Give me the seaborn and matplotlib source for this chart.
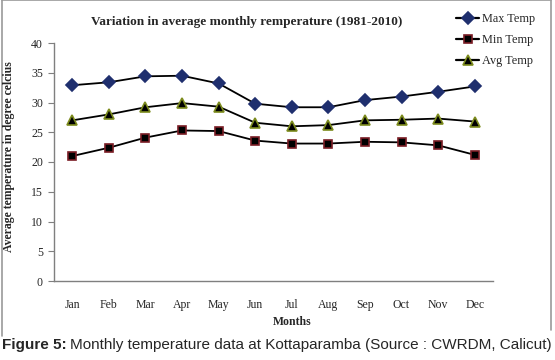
import matplotlib
matplotlib.use("Agg")
import matplotlib.pyplot as plt
import seaborn as sns
import pandas as pd
from matplotlib.lines import Line2D

months = ["Jan", "Feb", "Mar", "Apr", "May", "Jun", "Jul", "Aug", "Sep", "Oct", "Nov", "Dec"]
max_temp = [32.9, 33.4, 34.4, 34.5, 33.2, 29.8, 29.2, 29.2, 30.4, 31.0, 31.8, 32.7]
min_temp = [21.0, 22.4, 24.1, 25.3, 25.2, 23.6, 23.1, 23.1, 23.4, 23.3, 22.8, 21.2]
avg_temp = [27.0, 28.0, 29.2, 29.9, 29.3, 26.6, 26.0, 26.2, 27.0, 27.1, 27.3, 26.8]

sns.set_style("white")
plt.rcParams["font.family"] = ["Liberation Serif", "DejaVu Serif"]

fig = plt.figure(figsize=(5.55, 3.6), dpi=100)
ax = fig.add_axes([54/555, 1-281/360, (493-54)/555, (281-43)/360])

series = [
    ("Max Temp", max_temp, "D", "#1f2f6e", "#1f2f6e", 6.0),
    ("Min Temp", min_temp, "s", "black", "#7a1d25", 6.3),
    ("Avg Temp", avg_temp, "^", "black", "#7d8c1e", 7.5),
]
x = list(range(len(months)))
handles = []
for name, vals, mk, fc, ec, ms in series:
    df = pd.DataFrame({"Month": x, "Temp": vals})
    sns.lineplot(data=df, x="Month", y="Temp", ax=ax, color="black", lw=1.3,
                 marker=mk, markersize=ms, markerfacecolor=fc, markeredgecolor=ec,
                 markeredgewidth=1.2, legend=False)
    handles.append(Line2D([], [], color="black", lw=1.6, marker=mk, markersize=ms,
                          markerfacecolor=fc, markeredgecolor=ec, markeredgewidth=1.2,
                          label=name))

ax.set_xlim(-0.5, 11.5)
ax.set_ylim(0, 40)
ax.set_yticks(range(0, 41, 5))
ax.set_xticks(x)
ax.set_xticklabels(months)
ax.set_xlabel("")
ax.set_ylabel("")
for s in ["top", "right"]:
    ax.spines[s].set_visible(False)
for s in ["left", "bottom"]:
    ax.spines[s].set_color("#7f7f7f")
    ax.spines[s].set_linewidth(1.0)
ax.tick_params(axis="y", which="major", direction="out", length=4, color="#7f7f7f",
               labelsize=8.5, pad=4, left=True)
ax.tick_params(axis="x", which="major", length=0, labelsize=8.5, pad=13)

fig.text(247/555, 1-22/360, "Variation in average monthly remperature (1981-2010)",
         ha="center", va="center", fontsize=9.5, fontweight="bold")
fig.text(292/555, 1-322/360, "Months", ha="center", va="center", fontsize=8.5, fontweight="bold")
fig.text(9/555, 1-157/360, "Average temperature in degree celcius", ha="center", va="center",
         rotation=90, fontsize=8.5, fontweight="bold")

# legend entries (uneven spacing as in reference)
leg_y = [19, 40, 61]
for h, yy in zip(handles, leg_y):
    fig.legend(handles=[h], loc="center left", bbox_to_anchor=(456/555, 1-yy/360),
               frameon=False, fontsize=8.8, handlelength=1.9,
               handletextpad=0.2, borderaxespad=0, borderpad=0)

# outer border
fig.add_artist(Line2D([1.5/555, 1.5/555], [1-336/360, 1], color="#9a9a9a", lw=1.2,
                      transform=fig.transFigure))
fig.add_artist(Line2D([551/555, 551/555], [1-330/360, 1], color="#9a9a9a", lw=1.2,
                      transform=fig.transFigure))
fig.add_artist(Line2D([1.5/555, 551/555], [0.999, 0.999], color="#9a9a9a", lw=1.2,
                      transform=fig.transFigure))

# caption
fig.canvas.draw()
r = fig.canvas.get_renderer()
t1 = fig.text(2/555, 1-345/360, "Figure 5:", ha="left", va="center", fontsize=11,
              fontweight="bold", family="Liberation Sans")
bb = t1.get_window_extent(renderer=r)
fig.text((bb.x1 + 3)/555, 1-345/360,
         "Monthly temperature data at Kottaparamba (Source : CWRDM, Calicut)",
         ha="left", va="center", fontsize=11, family="Liberation Sans")

fig.savefig("out.png", dpi=100)
